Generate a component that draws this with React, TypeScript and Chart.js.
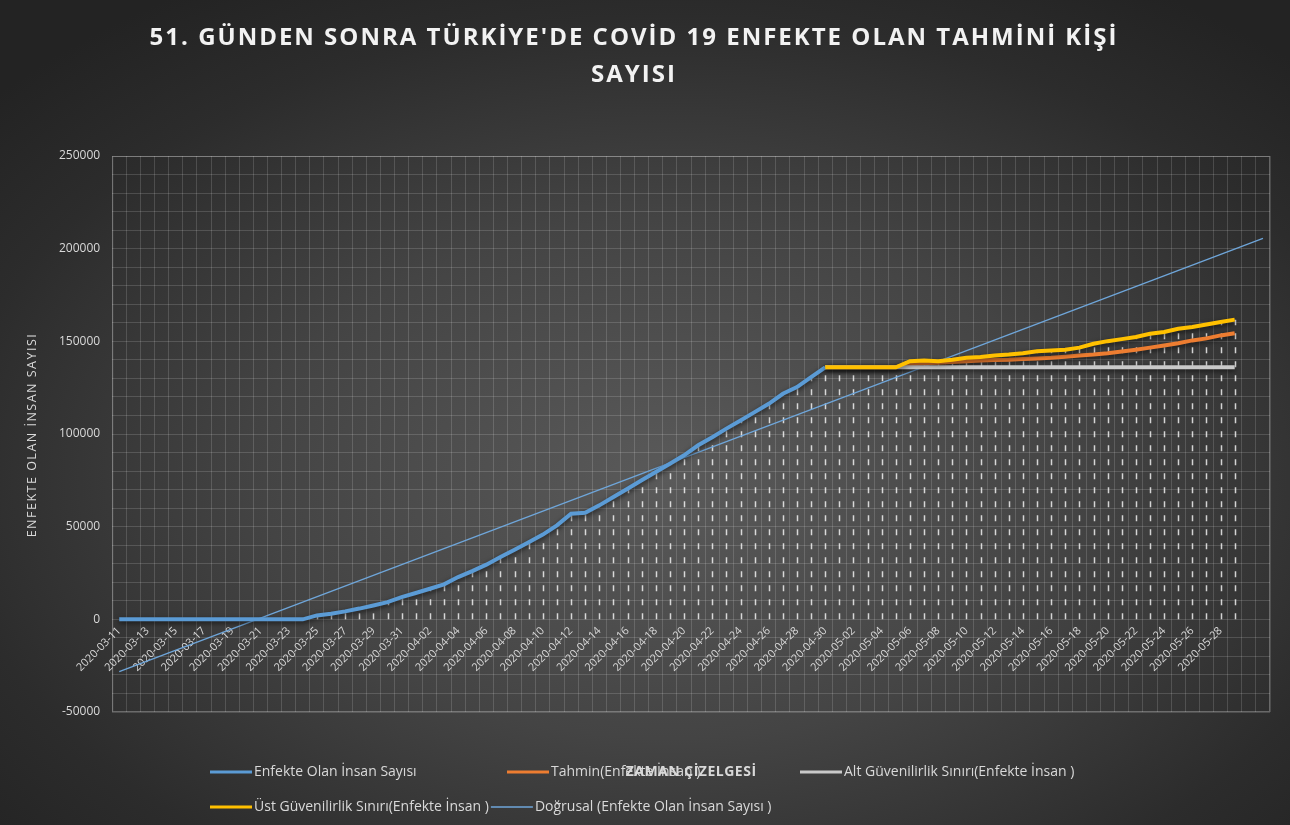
import React, { useEffect, useRef } from 'react';
import { Chart, registerables } from 'chart.js';

Chart.register(...registerables);

// ---------- DATA ----------
const dates: string[] = [
  '2020-03-11', '2020-03-12', '2020-03-13', '2020-03-14', '2020-03-15', '2020-03-16', '2020-03-17', '2020-03-18',
  '2020-03-19', '2020-03-20', '2020-03-21', '2020-03-22', '2020-03-23', '2020-03-24', '2020-03-25', '2020-03-26',
  '2020-03-27', '2020-03-28', '2020-03-29', '2020-03-30', '2020-03-31', '2020-04-01', '2020-04-02', '2020-04-03',
  '2020-04-04', '2020-04-05', '2020-04-06', '2020-04-07', '2020-04-08', '2020-04-09', '2020-04-10', '2020-04-11',
  '2020-04-12', '2020-04-13', '2020-04-14', '2020-04-15', '2020-04-16', '2020-04-17', '2020-04-18', '2020-04-19',
  '2020-04-20', '2020-04-21', '2020-04-22', '2020-04-23', '2020-04-24', '2020-04-25', '2020-04-26', '2020-04-27',
  '2020-04-28', '2020-04-29', '2020-04-30', '2020-05-01', '2020-05-02', '2020-05-03', '2020-05-04', '2020-05-05',
  '2020-05-06', '2020-05-07', '2020-05-08', '2020-05-09', '2020-05-10', '2020-05-11', '2020-05-12', '2020-05-13',
  '2020-05-14', '2020-05-15', '2020-05-16', '2020-05-17', '2020-05-18', '2020-05-19', '2020-05-20', '2020-05-21',
  '2020-05-22', '2020-05-23', '2020-05-24', '2020-05-25', '2020-05-26', '2020-05-27', '2020-05-28', '2020-05-29',
  '2020-05-30', '2020-05-31',
];

// Enfekte Olan İnsan Sayısı: 2020-03-11 .. 2020-04-30
const infected: number[] = [
  0, 0, 0, 0, 0, 0, 0, 0, 0, 0,
  0, 0, 0, 0, 2100, 3000, 4300, 5800, 7500, 9300,
  12000, 14200, 16500, 18900, 22800, 26000, 29500, 33600, 37600, 41600,
  45700, 50700, 57000, 57500, 61500, 66000, 70500, 75000, 79500, 84000,
  88500, 93900, 98300, 102900, 107300, 111800, 116300, 121700, 125300, 130700,
  136000,
];

// Forecast values: 2020-04-30 .. 2020-05-29
const forecast: number[] = [
  136000, 136000, 136000, 136000, 136000, 136000, 137800, 138200, 138400, 138900,
  139300, 139700, 139900, 140100, 140500, 140800, 141100, 141700, 142400, 142900,
  143600, 144500, 145500, 146600, 147800, 149000, 150500, 151600, 153200, 154400,
];
const lowerBound: number[] = [
  136000, 136000, 136000, 136000, 136000, 136000, 136000, 136000, 136000, 136000,
  136000, 136000, 136000, 136000, 136000, 136000, 136000, 136000, 136000, 136000,
  136000, 136000, 136000, 136000, 136000, 136000, 136000, 136000, 136000, 136000,
];
const upperBound: number[] = [
  136000, 136000, 136000, 136000, 136000, 136000, 139300, 139700, 139300, 140100,
  141100, 141500, 142400, 142900, 143600, 144700, 145100, 145500, 146600, 148700,
  150100, 151200, 152300, 154100, 155000, 156800, 157700, 159100, 160400, 161700,
];
const forecastStartIndex = 50;

// Linear trendline (Doğrusal) end values
const trendStart = -28200; // at 2020-03-11
const trendEnd = 205500;   // at 2020-05-31

const yTicks = { min: -50000, max: 250000, minor: 10000, major: 50000 };
const lastLabelIndex = 78;

const titleLines = ["51. GÜNDEN SONRA TÜRKİYE'DE COVİD 19 ENFEKTE OLAN TAHMİNİ KİŞİ", 'SAYISI'];
const yAxisTitle = 'ENFEKTE OLAN İNSAN SAYISI';
const xAxisTitle = 'ZAMAN ÇİZELGESİ';

// ---------- Build series aligned on categories ----------
const n = dates.length;
const pad = (arr: number[], start: number) => dates.map((_, i) => (i >= start && i - start < arr.length ? arr[i - start] : null));
const infectedSeries = pad(infected, 0);
const forecastSeries = pad(forecast, forecastStartIndex);
const lowerSeries = pad(lowerBound, forecastStartIndex);
const upperSeries = pad(upperBound, forecastStartIndex);
const trendSeries = dates.map((_, i) => (i === 0 ? trendStart : i === n - 1 ? trendEnd : null));

const FONT = "'Open Sans', 'DejaVu Sans', sans-serif";
const TEXT = '#d9d9d9';
const GRID = 'rgba(255,255,255,0.15)';

const dropLinesPlugin = {
  id: 'dropLines',
  beforeDatasetsDraw(chart: any) {
    const { ctx, chartArea, scales } = chart;
    const x = scales.x, y = scales.y;
    ctx.save();
    ctx.strokeStyle = 'rgba(255,255,255,0.28)';
    ctx.lineWidth = 1;
    ctx.strokeRect(chartArea.left + 0.5, chartArea.top + 0.5, chartArea.right - chartArea.left - 1, chartArea.bottom - chartArea.top - 1);
    ctx.strokeStyle = 'rgba(255,255,255,0.78)';
    ctx.lineWidth = 1.5;
    ctx.setLineDash([6, 8]);
    const y0 = y.getPixelForValue(0);
    for (let i = 0; i < n; i++) {
      let top: number | null = null;
      for (const s of [infectedSeries, forecastSeries, lowerSeries, upperSeries]) {
        const v = s[i];
        if (v != null && (top == null || v > top)) top = v;
      }
      if (top == null || top <= 0) continue;
      const px = Math.round(x.getPixelForValue(i)) + 0.5;
      ctx.beginPath();
      ctx.moveTo(px, y0);
      ctx.lineTo(px, y.getPixelForValue(top));
      ctx.stroke();
    }
    ctx.restore();
  },
};

const glowPlugin = {
  id: 'glow',
  beforeDatasetDraw(chart: any, args: any) {
    const ds = chart.data.datasets[args.index];
    if (ds.borderWidth >= 3) {
      const ctx = chart.ctx;
      ctx.save();
      ctx.shadowColor = 'rgba(0,0,0,0.6)';
      ctx.shadowBlur = 5;
      ctx.shadowOffsetY = 2;
      (chart as any).$glowSaved = true;
    }
  },
  afterDatasetDraw(chart: any) {
    if ((chart as any).$glowSaved) {
      chart.ctx.restore();
      (chart as any).$glowSaved = false;
    }
  },
};

const textPlugin = {
  id: 'texts',
  afterDraw(chart: any) {
    const { ctx, chartArea } = chart;
    const ds = chart.data.datasets;
    ctx.save();
    // Title
    ctx.fillStyle = '#f2f2f2';
    ctx.font = `bold 24px ${FONT}`;
    ctx.textAlign = 'center';
    ctx.textBaseline = 'middle';
    (ctx as any).letterSpacing = '2px';
    ctx.fillText(titleLines[0], 634, 38);
    ctx.fillText(titleLines[1], 634, 75);
    // Y axis title
    ctx.save();
    ctx.translate(32, (chartArea.top + chartArea.bottom) / 2 + 1);
    ctx.rotate(-Math.PI / 2);
    ctx.fillStyle = TEXT;
    ctx.font = `12.5px ${FONT}`;
    (ctx as any).letterSpacing = '1.5px';
    ctx.fillText(yAxisTitle, 0, 0);
    ctx.restore();

    // Legend
    (ctx as any).letterSpacing = '0px';
    const rows = [772, 807];
    const items = [
      { i: 0, row: 0, x: 210 },
      { i: 1, row: 0, x: 507 },
      { i: 2, row: 0, x: 800 },
      { i: 3, row: 1, x: 210 },
      { i: 4, row: 1, x: -1 },
    ];
    ctx.font = `14px ${FONT}`;
    ctx.textAlign = 'left';
    let cursor = 0;
    for (const it of items) {
      const d = ds[it.i];
      const x0 = it.x >= 0 ? it.x : cursor + 2;
      const yy = rows[it.row];
      ctx.strokeStyle = d.borderColor;
      ctx.lineWidth = Math.min(d.borderWidth, 3);
      ctx.beginPath();
      ctx.moveTo(x0, yy);
      ctx.lineTo(x0 + 42, yy);
      ctx.stroke();
      ctx.fillStyle = TEXT;
      ctx.fillText(d.label, x0 + 44, yy);
      cursor = x0 + 44 + ctx.measureText(d.label).width;
    }
    // x axis title (overlaps legend as in the original)
    ctx.font = `bold 14px ${FONT}`;
    (ctx as any).letterSpacing = '0.5px';
    ctx.textAlign = 'center';
    ctx.fillStyle = TEXT;
    ctx.fillText(xAxisTitle, (chartArea.left + chartArea.right) / 2, 772);
    ctx.restore();
  },
};

export default function App() {
  const ref = useRef<HTMLCanvasElement>(null);
  useEffect(() => {
    document.body.style.margin = '0';
    const chart = new Chart(ref.current as HTMLCanvasElement, {
      type: 'line',
      data: {
        labels: dates,
        datasets: [
          { label: 'Enfekte Olan İnsan Sayısı', data: infectedSeries, borderColor: '#5b9bd5', backgroundColor: '#5b9bd5', borderWidth: 4, pointRadius: 0, order: 1 },
          { label: 'Tahmin(Enfekte İnsan )', data: forecastSeries, borderColor: '#ed7d31', backgroundColor: '#ed7d31', borderWidth: 4, pointRadius: 0, order: 3 },
          { label: 'Alt Güvenilirlik Sınırı(Enfekte İnsan )', data: lowerSeries, borderColor: '#c9c9c9', backgroundColor: '#c9c9c9', borderWidth: 4, pointRadius: 0, order: 2 },
          { label: 'Üst Güvenilirlik Sınırı(Enfekte İnsan )', data: upperSeries, borderColor: '#ffc000', backgroundColor: '#ffc000', borderWidth: 4, pointRadius: 0, order: 0 },
          { label: 'Doğrusal (Enfekte Olan İnsan Sayısı )', data: trendSeries, borderColor: '#6fa6da', backgroundColor: '#6fa6da', borderWidth: 1.3, pointRadius: 0, spanGaps: true, order: 4 },
        ] as any,
      },
      options: {
        animation: false,
        responsive: false,
        events: [],
        layout: { padding: { left: 47, right: 20, bottom: 113, top: 156 } },
        plugins: {
          legend: { display: false },
          tooltip: { enabled: false },
          title: { display: false },
        },
        scales: {
          x: {
            type: 'category',
            position: { y: 0 } as any,
            offset: true,
            grid: { offset: true, color: GRID, drawTicks: false },
            border: { display: false },
            ticks: {
              autoSkip: false,
              minRotation: 45,
              maxRotation: 45,
              color: TEXT,
              padding: 5,
              font: { family: FONT, size: 11 },
              callback: (_v: any, i: number) => (i % 2 === 0 && i <= lastLabelIndex ? dates[i] : ''),
            },
          },
          y: {
            min: yTicks.min,
            max: yTicks.max,
            grid: { color: GRID, drawTicks: false },
            border: { display: false },
            ticks: {
              stepSize: yTicks.minor,
              autoSkip: false,
              color: TEXT,
              padding: 12,
              font: { family: FONT, size: 12 },
              callback: (v: any) => (Number(v) % yTicks.major === 0 ? String(v) : ''),
            },
          },
        },
      } as any,
      plugins: [dropLinesPlugin, glowPlugin, textPlugin],
    });
    return () => chart.destroy();
  }, []);
  return (
    <div
      style={{
        width: 1290,
        height: 825,
        background: 'radial-gradient(ellipse 70% 70% at 52% 58%, #5a5a5a 0%, #444444 45%, #2c2c2c 80%, #232323 100%)',
      }}
    >
      <canvas ref={ref} width={1290} height={825} style={{ display: 'block' }} />
    </div>
  );
}
